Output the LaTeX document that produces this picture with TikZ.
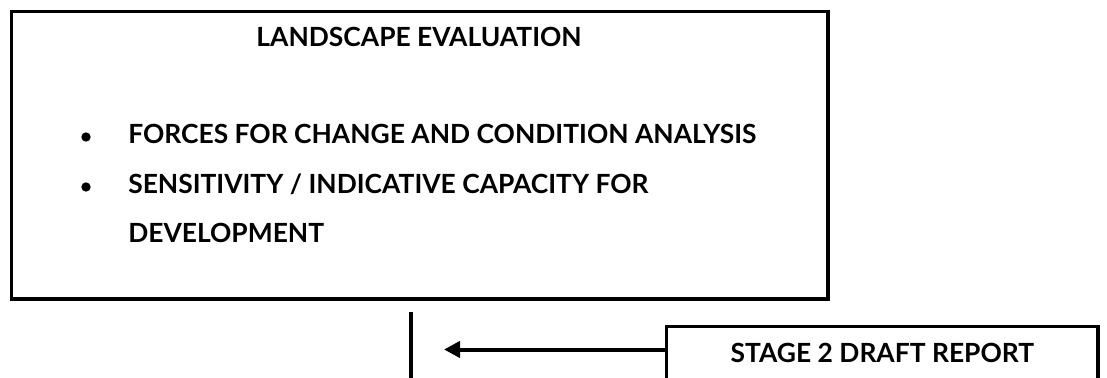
\documentclass[tikz,border=0pt]{standalone}
\usepackage{fontspec}
\setmainfont{Lato}
\usetikzlibrary{arrows.meta,positioning}

\begin{document}
\begin{tikzpicture}[x=0.75pt,y=-0.75pt,
    boxed/.style={draw, line width=2.5pt, outer sep=0pt, inner sep=0pt},
    caption/.style={font=\fontsize{19.8}{22}\selectfont\bfseries, inner sep=0pt},
    dot/.style={circle, fill, inner sep=0pt, minimum size=7pt}]
    \useasboundingbox (0,0) rectangle (1107,378);
    \clip (0,0) rectangle (1107,378);

    % Evaluation box
    \node[boxed, minimum width=612.4pt, minimum height=215.6pt, anchor=north west] (evaluation) at (11.5,11.5) {};
    \node[caption, anchor=base] (title) at (419,47) {LANDSCAPE EVALUATION};

    % Bullet list
    \node[dot] (dot1) at (86,137) {};
    \node[caption, anchor=base west] (forces) at (128,143) {FORCES FOR CHANGE AND CONDITION ANALYSIS};
    \node[dot] (dot2) at (86,187) {};
    \node[caption, anchor=base west] (sensitivity) at (128,193) {SENSITIVITY / INDICATIVE CAPACITY FOR};
    \node[caption, anchor=base west] (development) at (128,242) {DEVELOPMENT};

    % Draft report box
    \node[boxed, caption, minimum width=323.5pt, minimum height=40pt] (draft) at (882.4,353) {STAGE 2 DRAFT REPORT};

    % Stem and arrow
    \coordinate (stem top) at (411,312);
    \coordinate (stem bottom) at (411,390);
    \draw[line width=3pt] (stem top) -- (stem bottom);
    \coordinate (tip) at (444,349.5);
    \draw[line width=3pt, -{Triangle[length=12pt,width=12pt]}] (draft.west |- tip) -- (tip);
\end{tikzpicture}
\end{document}
